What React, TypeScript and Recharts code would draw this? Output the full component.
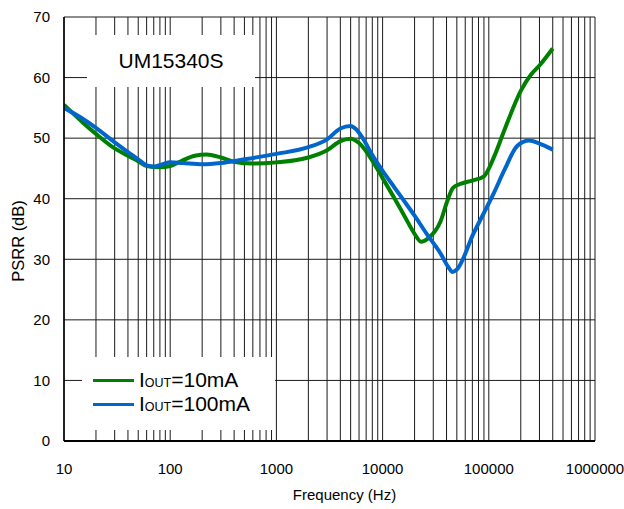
import React from 'react';
import { LineChart, Line, XAxis, YAxis, ReferenceLine, Legend } from 'recharts';

// PSRR vs frequency
const freq10mA = [10, 15, 20, 30, 40, 50, 60, 80, 100, 130, 170, 220, 300, 400, 600, 1000, 2000, 3000, 4000, 5000, 6000, 8000, 10000, 13000, 16000, 20000, 23000, 27000, 35000, 41000, 46000, 55000, 70000, 90000, 112000, 140000, 200000, 250000, 300000, 400000];
const psrr10mA = [55.5, 52.6, 50.7, 48.3, 47.1, 46.2, 45.4, 45.2, 45.4, 46.3, 47.1, 47.3, 46.8, 46.1, 45.8, 46.0, 46.8, 48.0, 49.5, 49.9, 49.2, 46.3, 43.4, 40.0, 37.2, 34.2, 32.9, 33.5, 36.2, 39.8, 41.8, 42.5, 43.0, 43.7, 46.9, 51.3, 57.8, 60.5, 62.0, 64.8];

const freq100mA = [10, 15, 20, 30, 40, 50, 60, 70, 85, 100, 130, 200, 300, 500, 1000, 2000, 3000, 4000, 5000, 5600, 6500, 8000, 10000, 13000, 16000, 20000, 26000, 35000, 42000, 45500, 50000, 72000, 112000, 140000, 185000, 240000, 300000, 400000];
const psrr100mA = [55.0, 53.2, 51.7, 49.3, 47.7, 46.5, 45.5, 45.3, 45.7, 46.0, 45.9, 45.7, 45.9, 46.5, 47.4, 48.5, 49.8, 51.6, 52.0, 51.5, 50.0, 47.2, 44.6, 41.8, 39.6, 37.2, 34.2, 31.0, 28.6, 27.9, 28.3, 34.3, 41.0, 44.7, 48.7, 49.6, 49.1, 48.1];

const xTicks = [10, 100, 1000, 10000, 100000, 1000000];
const yTicks = [0, 10, 20, 30, 40, 50, 60, 70];
const decades = [10, 100, 1000, 10000, 100000];
const multipliers = [1, 2, 3, 4, 5, 6, 7, 8, 9];

const FONT = '"Liberation Sans", Arial, sans-serif';
const GREEN = '#008000';
const BLUE = '#0066cc';

const data10 = freq10mA.map((f, i) => ({ f, v: psrr10mA[i] }));
const data100 = freq100mA.map((f, i) => ({ f, v: psrr100mA[i] }));
const gridX = decades.flatMap((d) => multipliers.map((m) => m * d)).concat([1000000]);

const series = [
  { name: '10mA', color: GREEN },
  { name: '100mA', color: BLUE },
];

const LegendBox = () => (
  <div
    style={{
      background: '#fff',
      width: 193,
      height: 73,
      boxSizing: 'border-box',
      paddingTop: 11,
      fontFamily: FONT,
      color: '#000',
    }}
  >
    {series.map((s) => (
      <div key={s.name} style={{ position: 'relative', height: 24, lineHeight: '24px', fontSize: 21, whiteSpace: 'nowrap' }}>
        <span style={{ position: 'absolute', left: 11, top: 11, width: 41, height: 3, background: s.color }} />
        <span style={{ position: 'absolute', left: 57, top: 0 }}>
          I<span style={{ fontSize: 12.5 }}>OUT</span>={s.name}
        </span>
      </div>
    ))}
  </div>
);

const YLabel = (props: any) => {
  const { viewBox } = props;
  const x = viewBox.x + 24;
  const y = viewBox.y + viewBox.height / 2 + 12;
  return (
    <text x={x} y={y} transform={`rotate(-90, ${x}, ${y})`} textAnchor="middle" fontSize={16.5} fontFamily={FONT} fill="#000">
      PSRR (dB)
    </text>
  );
};

const XLabel = (props: any) => {
  const { viewBox } = props;
  return (
    <text x={viewBox.x + viewBox.width / 2 + 15} y={500} textAnchor="middle" fontSize={15} fontFamily={FONT} fill="#000">
      Frequency (Hz)
    </text>
  );
};

export default function App() {
  return (
    <div style={{ position: 'absolute', left: 0, top: 0, width: 624, height: 509, background: '#fff' }}>
      <LineChart width={624} height={509} margin={{ top: 17, right: 29, bottom: 0, left: 0 }}>
        <XAxis
          dataKey="f"
          type="number"
          scale="log"
          domain={[10, 1000000]}
          ticks={xTicks}
          allowDataOverflow
          height={68}
          axisLine={{ stroke: '#000', strokeWidth: 2 }}
          tickLine={false}
          tickMargin={16}
          tick={{ fill: '#000', fontSize: 15, fontFamily: FONT }}
          label={<XLabel />}
        />
        <YAxis
          type="number"
          domain={[0, 70]}
          ticks={yTicks}
          width={64}
          axisLine={{ stroke: '#000', strokeWidth: 1.5 }}
          tickLine={false}
          tickMargin={8}
          tick={{ fill: '#000', fontSize: 15, fontFamily: FONT }}
          label={<YLabel />}
        />
        {gridX.map((x) => (
          <ReferenceLine key={`gx-${x}`} x={x} stroke="#1a1a1a" strokeWidth={1} />
        ))}
        {yTicks.map((y) => (
          <ReferenceLine key={`gy-${y}`} y={y} stroke="#1a1a1a" strokeWidth={1} />
        ))}
        <Line data={data10} dataKey="v" type="monotone" stroke={GREEN} strokeWidth={4} dot={false} isAnimationActive={false} />
        <Line data={data100} dataKey="v" type="monotone" stroke={BLUE} strokeWidth={4} dot={false} isAnimationActive={false} />
        <Legend
          layout="vertical"
          align="center"
          verticalAlign="middle"
          content={<LegendBox />}
          wrapperStyle={{ left: 82, top: 357, width: 193, height: 73 }}
        />
      </LineChart>
      <div
        style={{
          position: 'absolute',
          left: 87,
          top: 35,
          width: 168,
          height: 52,
          background: '#fff',
          fontFamily: FONT,
          fontSize: 21,
          lineHeight: '52px',
          textAlign: 'center',
          color: '#000',
        }}
      >
        UM15340S
      </div>
    </div>
  );
}
